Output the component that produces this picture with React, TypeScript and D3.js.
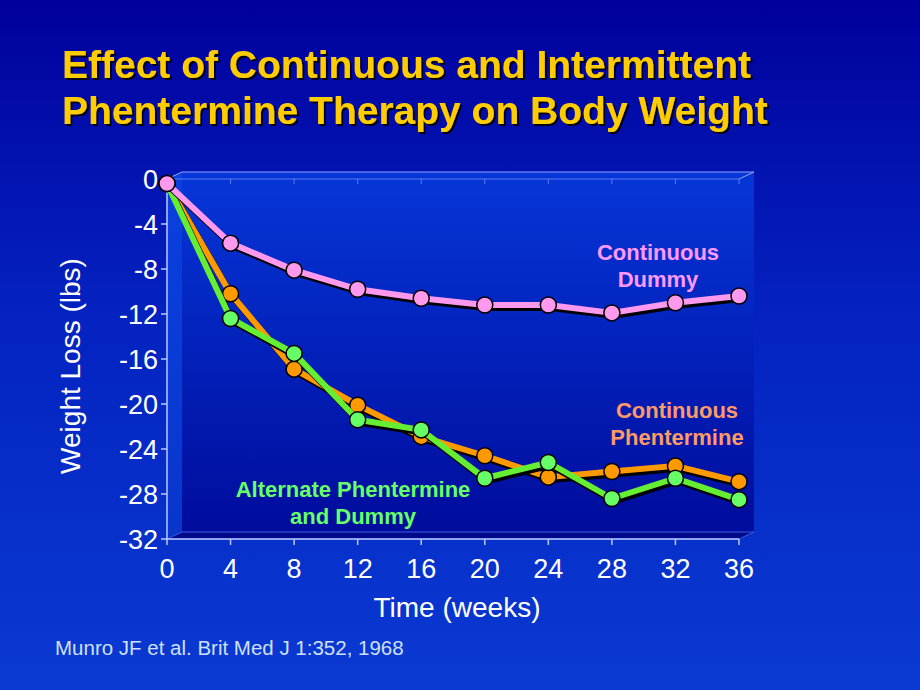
import * as d3 from "d3";

const WEEKS = [0, 4, 8, 12, 16, 20, 24, 28, 32, 36];
const DUMMY = [-0.4, -5.7, -8.1, -9.8, -10.6, -11.2, -11.2, -11.9, -11.0, -10.4];
const PHENTERMINE = [-0.4, -10.2, -16.9, -20.1, -22.9, -24.6, -26.5, -26.0, -25.5, -26.9];
const ALTERNATE = [-0.4, -12.4, -15.5, -21.4, -22.3, -26.6, -25.2, -28.4, -26.6, -28.5];
const Y_TICKS = [0, -4, -8, -12, -16, -20, -24, -28, -32];

const TITLE = ["Effect of Continuous and Intermittent", "Phentermine Therapy on Body Weight"];
const FONT = "'Liberation Sans', Arial, sans-serif";

const SERIES = [
  { name: "phentermine", values: PHENTERMINE, line: "#ff9900", fill: "#ff9900" },
  { name: "alternate", values: ALTERNATE, line: "#66ee33", fill: "#66ff66" },
  { name: "dummy", values: DUMMY, line: "#ff99ee", fill: "#ff99ee" },
];

const LABELS = [
  { lines: ["Continuous", "Dummy"], x: 658, y: 260, color: "#ff99ff" },
  { lines: ["Continuous", "Phentermine"], x: 677, y: 418, color: "#ff9966" },
  { lines: ["Alternate Phentermine", "and Dummy"], x: 353, y: 497, color: "#66ff66" },
];

export default function App() {
  const left = 167;
  const right = 739;
  const top = 179;
  const bottom = 539;
  const dx = 15;
  const dy = -7;

  const x = d3.scaleLinear().domain([0, 36]).range([left, right]);
  const y = d3.scaleLinear().domain([0, -32]).range([top, bottom]);

  const line = d3
    .line<number>()
    .x((_, i) => x(WEEKS[i]))
    .y((d) => y(d));

  return (
    <svg
      width={920}
      height={690}
      style={{ position: "absolute", left: 0, top: 0, fontFamily: FONT }}
    >
      <defs>
        <linearGradient id="bg" x1="0" y1="0" x2="0" y2="1">
          <stop offset="0%" stopColor="#00009c" />
          <stop offset="45%" stopColor="#0422c0" />
          <stop offset="100%" stopColor="#0a3ad2" />
        </linearGradient>
        <linearGradient id="wall" x1="0" y1="0" x2="0" y2="1">
          <stop offset="0%" stopColor="#0636d8" />
          <stop offset="100%" stopColor="#000c9c" />
        </linearGradient>
        <linearGradient id="side" x1="0" y1="0" x2="0" y2="1">
          <stop offset="0%" stopColor="#0a40e0" />
          <stop offset="100%" stopColor="#0836cc" />
        </linearGradient>
        <filter id="shadow" x="-5%" y="-20%" width="110%" height="140%">
          <feDropShadow dx={2} dy={2} stdDeviation={0.6} floodColor="#000" floodOpacity={0.9} />
        </filter>
      </defs>

      <rect width={920} height={690} fill="url(#bg)" />

      {/* title */}
      <g fontSize={39} fontWeight="bold" fill="#ffcc00" filter="url(#shadow)">
        {TITLE.map((t, i) => (
          <text key={t} x={62} y={78 + i * 46}>{t}</text>
        ))}
      </g>

      {/* 3D plot box */}
      <rect x={left + dx} y={top + dy} width={right - left} height={bottom - top} fill="url(#wall)" />
      <polygon
        points={`${left},${top} ${left + dx},${top + dy} ${left + dx},${bottom + dy} ${left},${bottom}`}
        fill="url(#side)"
      />
      <polygon
        points={`${left},${bottom} ${left + dx},${bottom + dy} ${right + dx},${bottom + dy} ${right},${bottom}`}
        fill="#000a88"
        stroke="#3a5ae0"
        strokeWidth={1}
      />
      <g stroke="#8fa6ff" strokeWidth={1} fill="none">
        <line x1={left + dx} y1={top + dy} x2={right + dx} y2={top + dy} />
        <line x1={left} y1={top} x2={right} y2={top} strokeOpacity={0.6} />
        <line x1={left} y1={top} x2={left + dx} y2={top + dy} />
        <line x1={right} y1={top} x2={right + dx} y2={top + dy} />
        {WEEKS.slice(1).map((w) => (
          <line key={w} x1={x(w)} y1={top} x2={x(w)} y2={top + 5} strokeOpacity={0.6} />
        ))}
      </g>

      {/* axes */}
      <g stroke="#b8c8ff" strokeWidth={1.5}>
        <line x1={left} y1={top} x2={left} y2={bottom} />
        <line x1={left} y1={bottom} x2={right} y2={bottom} />
        {Y_TICKS.map((t) => (
          <line key={t} x1={left - 6} y1={y(t)} x2={left} y2={y(t)} />
        ))}
        {WEEKS.map((w) => (
          <line key={w} x1={x(w)} y1={bottom} x2={x(w)} y2={bottom + 6} />
        ))}
      </g>
      <g fill="#ffffff" fontSize={27}>
        {Y_TICKS.map((t) => (
          <text key={t} x={158} y={y(t) + 10} textAnchor="end">{t}</text>
        ))}
        {WEEKS.map((w) => (
          <text key={w} x={x(w)} y={578} textAnchor="middle">{w}</text>
        ))}
        <text x={457} y={617} textAnchor="middle" fontSize={28}>Time (weeks)</text>
        <text transform="translate(80,366) rotate(-90)" textAnchor="middle" fontSize={28}>
          Weight Loss (lbs)
        </text>
      </g>

      {/* series */}
      {SERIES.map((s) => (
        <g key={s.name}>
          <path d={line(s.values) ?? ""} fill="none" stroke="#000" strokeWidth={6} transform="translate(2,3)" strokeLinejoin="round" />
          <path d={line(s.values) ?? ""} fill="none" stroke={s.line} strokeWidth={6} strokeLinejoin="round" />
          {s.values.map((v, i) => (
            <circle key={i} cx={x(WEEKS[i])} cy={y(v)} r={8} fill={s.fill} stroke="#000" strokeWidth={1.5} />
          ))}
        </g>
      ))}

      {/* series labels */}
      {LABELS.map((l) => (
        <text key={l.lines[0]} fill={l.color} fontSize={22} fontWeight="bold" textAnchor="middle">
          {l.lines.map((t, i) => (
            <tspan key={t} x={l.x} y={l.y + i * 27}>{t}</tspan>
          ))}
        </text>
      ))}

      <text x={55} y={655} fill="#cfe0ff" fontSize={20.5}>
        Munro JF et al. Brit Med J 1:352, 1968
      </text>
    </svg>
  );
}
